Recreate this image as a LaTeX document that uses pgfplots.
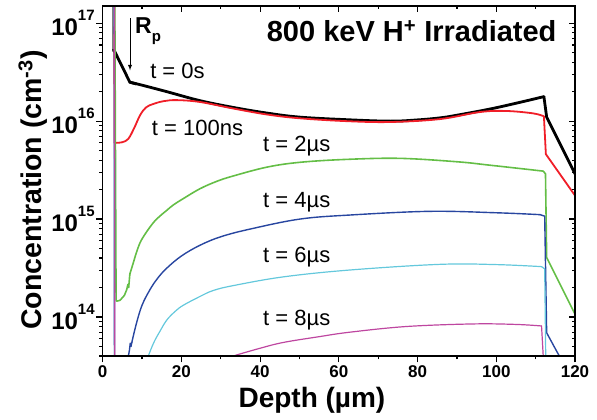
\documentclass[border=0pt]{standalone}
\usepackage{fontspec}
\setmainfont{Liberation Sans}
\usepackage{pgfplots}
\pgfplotsset{compat=1.18}
\definecolor{cred}{RGB}{240,30,40}
\definecolor{cgreen}{RGB}{100,190,70}
\definecolor{cblue}{RGB}{40,70,160}
\definecolor{ccyan}{RGB}{100,200,220}
\definecolor{cmag}{RGB}{190,70,160}
\newcommand{\ytl}[1]{10\raisebox{0.62em}{\fontsize{15}{15}\selectfont #1}}
\begin{document}
\begin{tikzpicture}
\useasboundingbox (-102.7pt,-64pt) rectangle (494.3pt,356pt);
\begin{axis}[
  at={(0,0)}, anchor=south west, scale only axis,
  width=472.3pt, height=350pt,
  xmin=0, xmax=120, ymode=log, ymin=4e13, ymax=1.5e17,
  xtick={0,20,...,120}, minor x tick num=1,
  ytick={1e14,1e15,1e16,1e17},
  minor ytick={4e13,5e13,6e13,7e13,8e13,9e13,2e14,3e14,4e14,5e14,6e14,7e14,8e14,9e14,2e15,3e15,4e15,5e15,6e15,7e15,8e15,9e15,2e16,3e16,4e16,5e16,6e16,7e16,8e16,9e16},
  axis line style={line width=1.6pt},
  tick style={black, line width=1.2pt},
  major tick length=6.5pt, minor tick length=3.5pt,
  xtick pos=left, ytick pos=left, tick align=outside,
  xticklabels={0,20,40,60,80,100,120},
  yticklabels={\ytl{14},\ytl{15},\ytl{16},\ytl{17}},
  xticklabel style={font=\fontsize{17}{17}\selectfont\bfseries},
  yticklabel style={font=\fontsize{24}{24}\selectfont\bfseries, xshift=2pt},
  xlabel={Depth (\textmu m)},
  ylabel={Concentration (cm\textsuperscript{-3})},
  xlabel style={font=\fontsize{28}{28}\selectfont\bfseries, at={(axis description cs:0.443,-0.126)}, anchor=center},
  ylabel style={font=\fontsize{28.5}{28.5}\selectfont\bfseries, at={(axis description cs:-0.1476,0.474)}, anchor=center},
  every axis plot/.append style={line cap=round, line join=round},
]
% black t=0s
\addplot[gray, line width=1pt] coordinates {(2.4,3e17) (2.4,5.3e16)};
\addplot[black, line width=2.8pt, line join=miter] coordinates {(2.7,5.3e16) (3.1,5.1e16) (6.9,2.5e16) (8.5,2.4e16)};
\addplot[black, line width=2.8pt, smooth, tension=0.6] coordinates {
(6.9,2.5e16) (10,2.33e16) (16.3,2.0e16) (24.7,1.62e16) (33.2,1.38e16) (41.7,1.21e16)
(50,1.1e16) (62,1.035e16) (73,1.0e16) (80,1.03e16) (85.7,1.08e16) (90,1.15e16)
(98.4,1.33e16) (105.2,1.53e16) (112.1,1.78e16)};
\addplot[black, line width=2.8pt, line join=miter] coordinates {(112.1,1.78e16) (112.8,1.1e16) (120,2.9e15)};
% red t=100ns
\addplot[cred, line width=1.8pt] coordinates {(2.9,1e18) (3.0,6.0e15) (3.1,6.0e15)};
\addplot[cred, line width=1.8pt, smooth, tension=0.6] coordinates {
(3.1,6.0e15) (5,6.1e15) (6.5,6.6e15) (8,8.5e15) (9.5,1.15e16) (11,1.38e16)
(12.9,1.5e16) (15.5,1.6e16) (18.8,1.64e16) (24.7,1.57e16) (33,1.35e16)
(41.7,1.17e16) (50,1.07e16) (62,1.0e16) (73,9.8e15) (85.7,1.05e16) (95.9,1.24e16)
(102.6,1.27e16) (109.4,1.2e16) (112.1,1.12e16)};
\addplot[cred, line width=1.8pt] coordinates {(112.1,1.12e16) (112.6,4.6e15) (120,1.74e15)};
% green t=2us
\addplot[cgreen, line width=1.6pt] coordinates {
(3.0,1e18) (3.4,1.5e14) (3.5,1.45e14) (4.4,1.48e14) (5.5,1.66e14) (6.1,1.9e14)
(6.4,2.15e14) (6.6,2.0e14) (6.9,2.75e14)};
\addplot[cgreen, line width=1.6pt, smooth, tension=0.6] coordinates {
(6.9,2.75e14) (7.8,3.6e14) (8.5,4.47e14) (9.5,5.75e14) (10.5,6.76e14) (11.5,7.76e14)
(13,9.33e14) (14.5,1.07e15) (16.3,1.23e15) (18,1.4e15) (20.5,1.62e15) (24.7,2.04e15)
(29,2.43e15) (33.1,2.75e15) (41.7,3.39e15) (50.1,3.8e15) (62,4.07e15)
(75.5,4.17e15) (90,3.85e15) (98.4,3.55e15) (111.9,3.09e15)};
\addplot[cgreen, line width=1.6pt] coordinates {(111.9,3.09e15) (112.5,2.9e15) (112.8,4.05e14) (120,1.07e14)};
% blue t=4us
\addplot[cblue, line width=1.4pt] coordinates {
(2.9,1e18) (3.0,1e13) (6.0,1e13) (6.3,3.55e13) (6.8,4.6e13) (7.0,5.4e13) (7.2,5.0e13) (7.4,5.5e13)};
\addplot[cblue, line width=1.4pt, smooth, tension=0.6] coordinates {
(7.4,5.5e13) (8.6,8.7e13) (10,1.32e14) (12,1.9e14) (14,2.5e14) (16.3,3.16e14) (20,4.2e14)
(24.7,5.4e14) (30,6.6e14) (37.4,7.9e14) (50.1,1.0e15) (62.8,1.1e15)
(83.1,1.2e15) (100,1.16e15) (111.1,1.11e15)};
\addplot[cblue, line width=1.4pt] coordinates {(111.1,1.11e15) (112.3,1.07e15) (112.8,6.9e13) (116,4.0e13) (117,3.2e13)};
% cyan t=6us
\addplot[ccyan, line width=1.2pt] coordinates {(2.95,1e18) (3.0,1e13)};
\addplot[ccyan, line width=1.2pt, smooth, tension=0.6] coordinates {
(11.3,3.55e13) (11.6,4e13) (13,5.5e13) (14.5,7.1e13) (16.3,9.33e13) (18.5,1.15e14)
(20.5,1.32e14) (24.7,1.62e14) (28,1.86e14) (33.1,2.09e14) (45.9,2.57e14)
(62.8,3.02e14) (85.7,3.45e14) (100,3.43e14) (111.5,3.27e14)};
\addplot[ccyan, line width=1.2pt] coordinates {(111.5,3.27e14) (112.3,3.1e14) (112.6,3.0e13)};
% magenta t=8us
\addplot[cmag, line width=1.2pt] coordinates {(3.0,1e18) (3.05,1e13)};
\addplot[cmag, line width=1.2pt, smooth, tension=0.6] coordinates {
(32,3.8e13) (33.2,4.0e13) (40,4.8e13) (45.9,5.5e13) (55,6.3e13) (62.8,7.0e13)
(77.2,8.0e13) (94.2,8.5e13) (105,8.4e13) (111.5,8.1e13)};
\addplot[cmag, line width=1.2pt] coordinates {(111.5,8.1e13) (112.1,3.0e13)};
% annotations
\draw[-latex, line width=0.9pt] (axis cs:6.94,1.125e17) -- (axis cs:6.94,3.3e16);
\node[anchor=west, inner sep=0pt, font=\fontsize{23}{23}\selectfont\bfseries] at (axis cs:8.2,8.3e16) {R\raisebox{-0.35em}{\fontsize{15}{15}\selectfont p}};
\node[font=\fontsize{29}{29}\selectfont\bfseries] at (axis cs:78.5,8.3e16) {800 keV H\textsuperscript{+} Irradiated};
\node[font=\fontsize{22}{22}\selectfont, inner sep=0pt] at (axis cs:19.0,3.26e16) {t = 0s};
\node[font=\fontsize{22}{22}\selectfont, inner sep=0pt] at (axis cs:24.1,8.57e15) {t = 100ns};
\node[font=\fontsize{22}{22}\selectfont, inner sep=0pt] at (axis cs:49.3,5.55e15) {t = 2\textmu s};
\node[font=\fontsize{22}{22}\selectfont, inner sep=0pt] at (axis cs:49.3,1.49e15) {t = 4\textmu s};
\node[font=\fontsize{22}{22}\selectfont, inner sep=0pt] at (axis cs:49.3,4.07e14) {t = 6\textmu s};
\node[font=\fontsize{22}{22}\selectfont, inner sep=0pt] at (axis cs:49.3,9.4e13) {t = 8\textmu s};
\end{axis}
\begin{axis}[
  at={(0,0)}, anchor=south west, scale only axis,
  width=472.3pt, height=350pt,
  xmin=0, xmax=120, ymode=log, ymin=4e13, ymax=1.5e17,
  xtick={0,20,...,120}, minor x tick num=1,
  ytick={1e14,1e15,1e16,1e17},
  minor ytick={4e13,5e13,6e13,7e13,8e13,9e13,2e14,3e14,4e14,5e14,6e14,7e14,8e14,9e14,2e15,3e15,4e15,5e15,6e15,7e15,8e15,9e15,2e16,3e16,4e16,5e16,6e16,7e16,8e16,9e16},
  axis line style={line width=1.6pt},
  tick style={black, line width=1.2pt},
  major tick length=6.5pt, minor tick length=3.5pt,
  xtick pos=right, ytick pos=right, tick align=inside,
  xticklabels={}, yticklabels={},
]
\end{axis}
\end{tikzpicture}
\end{document}
